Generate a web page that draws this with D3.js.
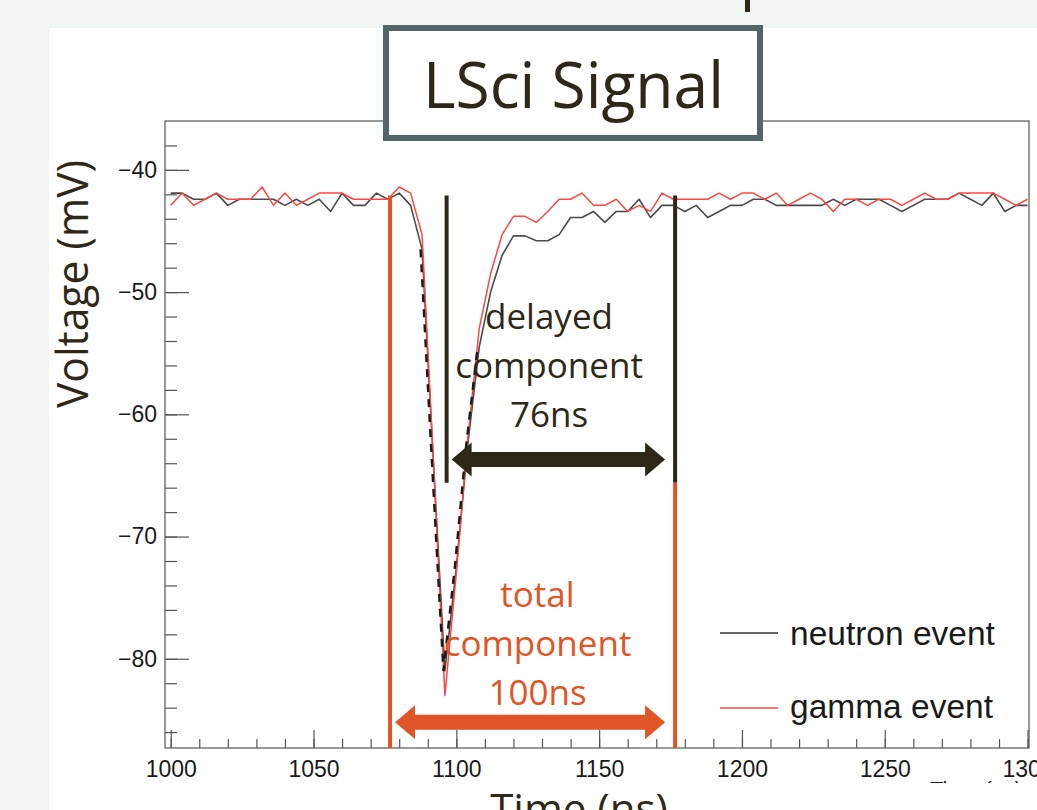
<!DOCTYPE html>
<html>
<head>
<meta charset="utf-8">
<script src="https://cdn.jsdelivr.net/npm/d3@7"></script>
<style>
  body { margin: 0; background: #f1f5f1; }
  svg { display: block; }
</style>
</head>
<body>
<svg id="chart"></svg>
<script>
// sample times (ns), one sample every 4 ns
const times = [1000, 1004, 1008, 1012, 1016, 1020, 1024, 1028, 1032, 1036, 1040, 1044, 1048, 1052, 1056, 1060,
  1064, 1068, 1072, 1076, 1080, 1084, 1088, 1092, 1096, 1100, 1104, 1108, 1112, 1116, 1120, 1124,
  1128, 1132, 1136, 1140, 1144, 1148, 1152, 1156, 1160, 1164, 1168, 1172, 1176, 1180, 1184, 1188,
  1192, 1196, 1200, 1204, 1208, 1212, 1216, 1220, 1224, 1228, 1232, 1236, 1240, 1244, 1248, 1252,
  1256, 1260, 1264, 1268, 1272, 1276, 1280, 1284, 1288, 1292, 1296, 1300];

// voltage (mV)
const neutron = [-41.9, -41.9, -42.4, -42.4, -41.9, -42.9, -42.4, -42.4, -42.4, -42.4, -42.9, -42.4, -42.9, -42.4, -43.4, -41.9,
  -42.9, -42.9, -41.9, -42.4, -41.9, -42.9, -46.5, -64.0, -81.0, -72.5, -62.5, -54.5, -50.0, -47.0, -45.4, -45.4,
  -45.8, -45.8, -45.3, -43.9, -43.9, -43.4, -44.3, -43.4, -43.4, -42.4, -43.9, -42.9, -42.9, -43.4, -42.9, -43.9,
  -43.4, -42.9, -42.9, -42.4, -42.4, -42.9, -42.9, -42.9, -42.9, -42.9, -42.4, -42.9, -42.4, -42.4, -42.4, -42.9,
  -43.4, -42.9, -42.4, -42.4, -42.4, -41.9, -42.4, -42.9, -41.9, -43.4, -42.9, -42.9];

const gamma = [-42.9, -41.9, -42.9, -42.4, -41.9, -42.4, -42.4, -42.4, -41.4, -42.9, -41.9, -42.9, -42.4, -41.9, -41.9, -41.9,
  -42.4, -42.4, -42.4, -42.4, -41.4, -41.9, -45.3, -64.0, -83.0, -73.0, -62.0, -53.0, -48.5, -45.3, -43.8, -43.8,
  -44.3, -43.4, -42.4, -42.4, -41.9, -42.9, -42.9, -42.4, -43.4, -42.9, -43.4, -41.9, -42.4, -42.4, -42.4, -42.4,
  -41.9, -42.4, -41.9, -41.9, -42.4, -41.9, -42.9, -42.4, -41.9, -42.4, -43.4, -42.4, -42.4, -42.9, -42.4, -42.4,
  -42.9, -42.4, -41.9, -42.4, -42.4, -41.9, -41.9, -41.9, -41.9, -42.4, -42.9, -42.4];

const xTicks = [1000, 1050, 1100, 1150, 1200, 1250, 1300];
const yTicks = [-80, -70, -60, -50, -40];
const seriesNames = ['neutron event', 'gamma event'];

// annotation markers (ns / mV)
const totalSpan = [1076.8, 1176.6];
const delayedSpan = [1096.6, 1176.6];
const markerTop = -42.1;
const delayedBottom = -65.6;
const delayedArrowV = -63.7;
const totalArrowV = -85.2;
const delayedLabel = ['delayed', 'component', '76ns'];
const totalLabel = ['total', 'component', '100ns'];
// pulse window where the neutron trace shows through the gamma trace as dashes
const pulseWindow = [1086, 1110];

const width = 1037;
const height = 810;
const plot = { left: 165, right: 1029, top: 121, bottom: 748 };
const dark = '#2e2819';
const orange = '#e05526';
const slideFont = "'Open Sans', 'Noto Sans', sans-serif";
const rootFont = "'Liberation Sans', Arial, sans-serif";

const svg = d3.select('#chart')
  .attr('width', width)
  .attr('height', height);

// slide panel
svg.append('rect')
  .attr('x', 49).attr('y', 28)
  .attr('width', width - 49).attr('height', height - 28)
  .attr('fill', '#fff');

// bit of a letter from the slide title above
svg.append('rect')
  .attr('x', 745).attr('y', 0)
  .attr('width', 5).attr('height', 12)
  .attr('fill', dark);

let x = d3.scaleLinear()
  .domain([998, 1300.5])
  .range([plot.left, plot.right]);

let y = d3.scaleLinear()
  .domain([-87.3, -36])
  .range([plot.bottom, plot.top]);

// minor ticks
svg.append('g')
  .attr('transform', 'translate(0,' + plot.bottom + ')')
  .attr('color', '#555')
  .call(d3.axisBottom(x).tickValues(d3.range(1000, 1301, 10)).tickSize(-9).tickFormat(''))
  .call(g => g.select('.domain').remove());

svg.append('g')
  .attr('transform', 'translate(' + plot.left + ',0)')
  .attr('color', '#555')
  .call(d3.axisLeft(y).tickValues(d3.range(-86, -36, 2)).tickSize(-12).tickFormat(''))
  .call(g => g.select('.domain').remove());

// major ticks + labels
let xAxis = svg.append('g')
  .attr('transform', 'translate(0,' + plot.bottom + ')')
  .attr('color', '#555')
  .call(d3.axisBottom(x).tickValues(xTicks).tickSize(-18).tickPadding(13).tickFormat(d3.format('d')))
  .call(g => g.select('.domain').remove());

let yAxis = svg.append('g')
  .attr('transform', 'translate(' + plot.left + ',0)')
  .attr('color', '#555')
  .call(d3.axisLeft(y).tickValues(yTicks).tickSize(-24).tickPadding(8).tickFormat(d3.format('d')))
  .call(g => g.select('.domain').remove());

svg.selectAll('.tick line').attr('stroke-width', 1.2);
[xAxis, yAxis].forEach(g => g.selectAll('text')
  .attr('fill', '#1a1a1a')
  .style('font-family', rootFont)
  .style('font-size', '23px'));

// frame
svg.append('rect')
  .attr('x', plot.left).attr('y', plot.top)
  .attr('width', plot.right - plot.left).attr('height', plot.bottom - plot.top)
  .attr('fill', 'none')
  .attr('stroke', '#555')
  .attr('stroke-width', 1.2);

svg.append('clipPath').attr('id', 'plotClip')
  .append('rect')
  .attr('x', plot.left).attr('y', plot.top)
  .attr('width', plot.right - plot.left).attr('height', plot.bottom - plot.top);

let line = d3.line()
  .x((d, i) => x(times[i]))
  .y(d => y(d));

let traces = svg.append('g').attr('clip-path', 'url(#plotClip)');

traces.append('path')
  .datum(neutron)
  .attr('d', line)
  .attr('fill', 'none')
  .attr('stroke', '#4a4a4a')
  .attr('stroke-width', 1.6)
  .attr('stroke-linejoin', 'round');

traces.append('path')
  .datum(gamma)
  .attr('d', line)
  .attr('fill', 'none')
  .attr('stroke', '#ff4545')
  .attr('stroke-width', 1.5)
  .attr('stroke-linejoin', 'round');

// neutron trace peeking through on the steep edges
let pulseLine = d3.line()
  .defined((d, i) => times[i] >= pulseWindow[0] && times[i] <= pulseWindow[1])
  .x((d, i) => x(times[i]))
  .y(d => y(d));

traces.append('path')
  .datum(neutron)
  .attr('d', pulseLine)
  .attr('fill', 'none')
  .attr('stroke', '#1a1a1a')
  .attr('stroke-width', 2.4)
  .attr('stroke-dasharray', '8,7')
  .attr('transform', 'translate(-1.5,0)');

// legend
let legend = svg.append('g');
[['#333', 633, 645], ['#ff4545', 708, 718]].forEach((s, i) => {
  legend.append('line')
    .attr('x1', 720).attr('x2', 778)
    .attr('y1', s[1]).attr('y2', s[1])
    .attr('stroke', s[0])
    .attr('stroke-width', 1.5);
  legend.append('text')
    .attr('x', 790).attr('y', s[2])
    .attr('fill', '#1a1a1a')
    .style('font-family', rootFont)
    .style('font-size', '33.5px')
    .text(seriesNames[i]);
});

// marker lines
function vbar(t, v0, v1, color) {
  svg.append('line')
    .attr('x1', x(t)).attr('x2', x(t))
    .attr('y1', y(v0)).attr('y2', y(v1))
    .attr('stroke', color)
    .attr('stroke-width', 4);
}
vbar(totalSpan[0], markerTop, -87.3, orange);
vbar(delayedSpan[0], markerTop, delayedBottom, dark);
vbar(totalSpan[1], markerTop, delayedBottom, dark);
vbar(totalSpan[1], delayedBottom, -87.3, orange);

// double arrows
function doubleArrow(x1, x2, yc, color) {
  let s = 7.5, h = 17, l = 20;
  let pts = [
    [x1, yc], [x1 + l, yc - h], [x1 + l, yc - s], [x2 - l, yc - s], [x2 - l, yc - h],
    [x2, yc], [x2 - l, yc + h], [x2 - l, yc + s], [x1 + l, yc + s], [x1 + l, yc + h]
  ];
  svg.append('polygon')
    .attr('points', pts.map(p => p.join(',')).join(' '))
    .attr('fill', color);
}
doubleArrow(x(delayedSpan[0]) + 5, x(delayedSpan[1]) - 10, y(delayedArrowV), dark);
doubleArrow(x(totalSpan[0]) + 5, x(totalSpan[1]) - 10, y(totalArrowV), orange);

// annotation texts
function label(lines, cx, top, color) {
  lines.forEach((t, i) => {
    svg.append('text')
      .attr('x', cx).attr('y', top + i * 49)
      .attr('text-anchor', 'middle')
      .attr('fill', color)
      .style('font-family', slideFont)
      .style('font-size', '35px')
      .text(t);
  });
}
label(delayedLabel, 549, 329, dark);
label(totalLabel, 537.5, 607, orange);

// cut-off ROOT axis title at bottom right
svg.append('clipPath').attr('id', 'titleClip')
  .append('rect')
  .attr('x', 900).attr('y', 770).attr('width', 137).attr('height', 13);
svg.append('text')
  .attr('x', 930).attr('y', 797)
  .attr('clip-path', 'url(#titleClip)')
  .attr('fill', '#1a1a1a')
  .style('font-family', rootFont)
  .style('font-size', '22px')
  .text('Time (ns)');

// slide axis titles
svg.append('text')
  .attr('x', 579).attr('y', 824)
  .attr('text-anchor', 'middle')
  .attr('fill', dark)
  .style('font-family', slideFont)
  .style('font-size', '42px')
  .text('Time (ns)');

svg.append('text')
  .attr('transform', 'rotate(-90)')
  .attr('x', -284).attr('y', 88)
  .attr('text-anchor', 'middle')
  .attr('textLength', 248)
  .attr('lengthAdjust', 'spacingAndGlyphs')
  .attr('fill', dark)
  .style('font-family', slideFont)
  .style('font-size', '43px')
  .text('Voltage (mV)');

// title box
svg.append('rect')
  .attr('x', 386).attr('y', 28)
  .attr('width', 374).attr('height', 110)
  .attr('fill', '#fff')
  .attr('stroke', '#52666a')
  .attr('stroke-width', 6);

svg.append('text')
  .attr('x', 573.5).attr('y', 108)
  .attr('text-anchor', 'middle')
  .attr('textLength', 301)
  .attr('lengthAdjust', 'spacingAndGlyphs')
  .attr('fill', dark)
  .style('font-family', slideFont)
  .style('font-size', '64px')
  .text('LSci Signal');
</script>
</body>
</html>
